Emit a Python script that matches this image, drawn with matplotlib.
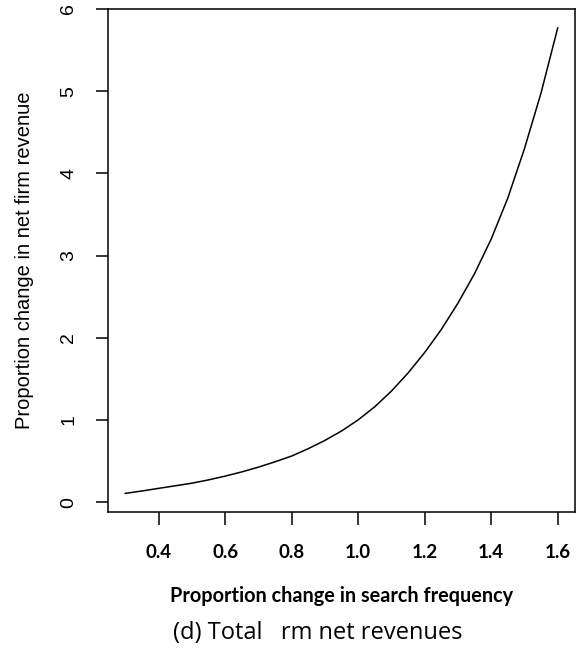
import matplotlib
matplotlib.use("Agg")
import matplotlib.pyplot as plt

# proportion change in search frequency vs. proportion change in net firm revenue
search_freq = [0.3, 0.35, 0.4, 0.45, 0.5, 0.55, 0.6, 0.65, 0.7, 0.75, 0.8, 0.85,
               0.9, 0.95, 1.0, 1.05, 1.1, 1.15, 1.2, 1.25, 1.3, 1.35, 1.4, 1.45,
               1.5, 1.55, 1.6]
net_revenue = [0.106, 0.135, 0.167, 0.198, 0.23, 0.27, 0.316, 0.367, 0.425, 0.49,
               0.56, 0.65, 0.75, 0.865, 1.0, 1.16, 1.35, 1.57, 1.82, 2.1, 2.42,
               2.78, 3.2, 3.7, 4.3, 4.98, 5.77]

x_ticks = [0.4, 0.6, 0.8, 1.0, 1.2, 1.4, 1.6]
y_ticks = [0, 1, 2, 3, 4, 5, 6]

fig = plt.figure(figsize=(5.78, 6.5), dpi=100)
ax = fig.add_axes([108 / 578, 1 - 512 / 650, (575 - 108) / 578, (512 - 9) / 650])

ax.plot(search_freq, net_revenue, color="black", linewidth=1.1)

# R-style 4% padding around the data range
xr = max(search_freq) - min(search_freq)
yr = max(net_revenue) - min(net_revenue)
ax.set_xlim(min(search_freq) - 0.04 * xr, max(search_freq) + 0.04 * xr)
ax.set_ylim(min(net_revenue) - 0.04 * yr, max(net_revenue) + 0.04 * yr)

for s in ax.spines.values():
    s.set_linewidth(1.1)

ax.set_xticks(x_ticks)
ax.set_xticklabels([f"{v:.1f}" for v in x_ticks], fontfamily="Lato",
                   fontweight="bold", fontsize=13.5)
ax.set_yticks(y_ticks)
ax.set_yticklabels([str(v) for v in y_ticks], fontfamily="Liberation Sans",
                   fontsize=14, rotation=90, va="center")
ax.tick_params(axis="x", direction="out", length=9, width=1.1, pad=14)
ax.tick_params(axis="y", direction="out", length=9, width=1.1, pad=13)

ax.set_xlabel("Proportion change in search frequency", fontfamily="Lato",
              fontweight="bold", fontsize=14.3, labelpad=18)
ax.set_ylabel("Proportion change in net firm revenue", fontfamily="Liberation Sans",
              fontsize=14.5, labelpad=19)

fig.text(173 / 578, 1 - 633 / 650, "(d) Total   rm net revenues", fontfamily="Open Sans",
         fontsize=17, ha="left", va="center")

fig.savefig("out.png", dpi=100)
